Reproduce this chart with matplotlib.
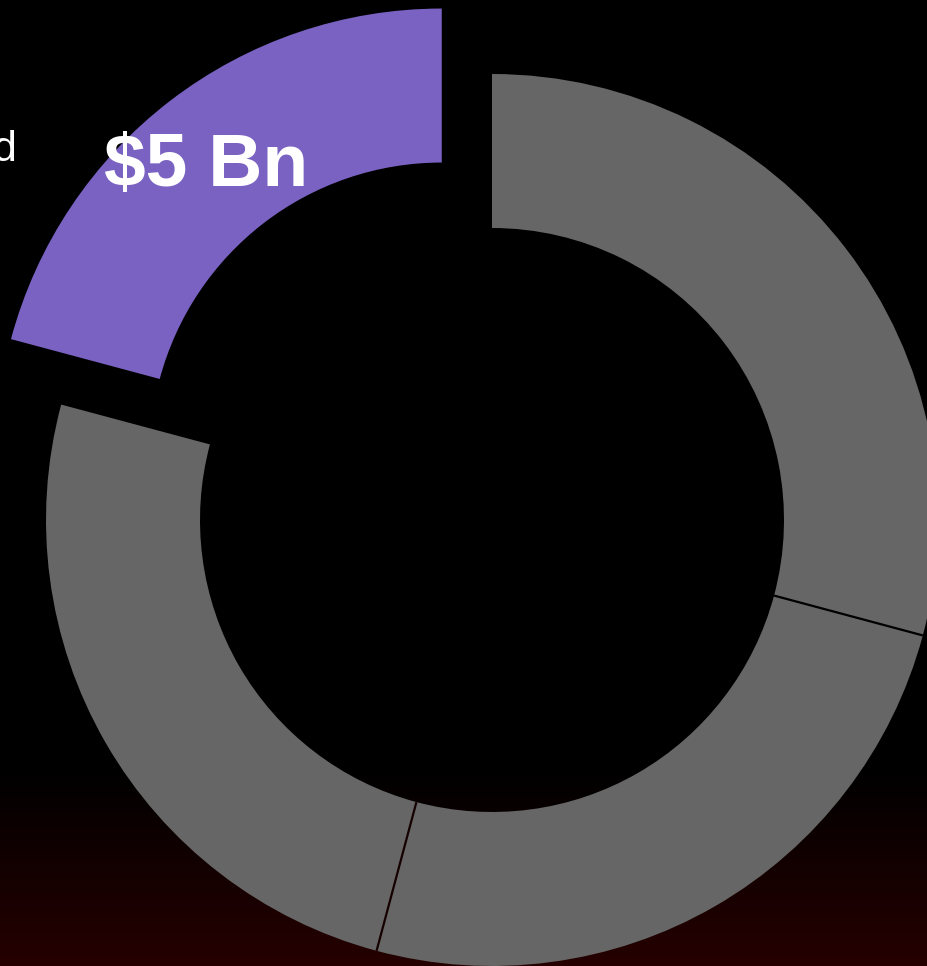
import numpy as np
import matplotlib.pyplot as plt

# Funding split, clockwise from 12 o'clock (USD Bn)
segment_values = [7, 6, 6, 5]
segment_colors = ["#666666", "#666666", "#666666", "#7a62c2"]
segment_explode = [0, 0, 0, 0.185]   # as a fraction of the radius
highlight_label = "$5 Bn"

W, H = 927, 966
fig = plt.figure(figsize=(W / 100, H / 100), dpi=100)
ax = fig.add_axes([0, 0, 1, 1])

# background: black, fading into dark red near the bottom
def bg_color(y_px):
    t = np.clip((y_px - 765) / (H - 765), 0, 1)
    return (0.15 * t, 0.0, 0.0)

rows = np.arange(H)
grad = np.array([bg_color(r) for r in rows])[:, None, :]
ax.imshow(np.repeat(grad, 2, axis=1), extent=(0, W, 0, H), origin="upper",
          aspect="auto", zorder=0)

cx, cy, r_out, ring = 492, H - 520, 446, 154
ax.pie(segment_values, colors=segment_colors,
       explode=[e * r_out for e in segment_explode],
       startangle=90, counterclock=False, center=(cx, cy), radius=r_out,
       wedgeprops=dict(width=ring, linewidth=0), frame=True)
ax.set_xlim(0, W)
ax.set_ylim(0, H)
ax.set_aspect("equal")
ax.axis("off")

# thin separators between the adjoining grey wedges
total = sum(segment_values)
angle = 90.0
for v in segment_values[:2]:
    angle -= 360.0 * v / total
    a = np.deg2rad(angle)
    xs = cx + np.array([r_out - ring, r_out]) * np.cos(a)
    ys = cy + np.array([r_out - ring, r_out]) * np.sin(a)
    ax.plot(xs, ys, color=bg_color(H - ys.mean()), lw=1.6, zorder=5,
            solid_capstyle="butt")

ax.text(16, H - 150, "d", color="white", fontsize=31, ha="right", va="center",
        family="Liberation Sans")
ax.text(206, H - 166, highlight_label, color="white", fontsize=54, ha="center",
        va="center", fontweight="bold", family="Liberation Sans", zorder=6)

fig.savefig("out.png", dpi=100, facecolor="black")
